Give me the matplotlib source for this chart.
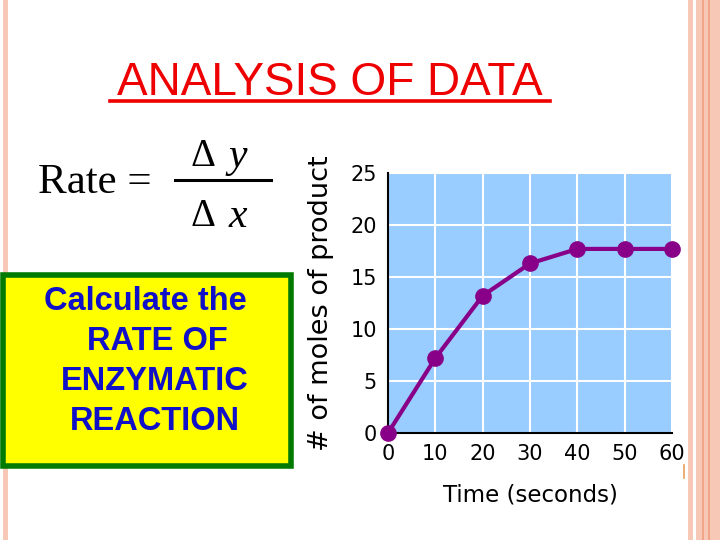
import matplotlib
matplotlib.use("Agg")
import matplotlib.pyplot as plt
from matplotlib.patches import Rectangle
from matplotlib.lines import Line2D

# data
time_s = [0, 10, 20, 30, 40, 50, 60]
moles = [0, 7.2, 13.2, 16.3, 17.7, 17.7, 17.7]
x_ticks = [0, 10, 20, 30, 40, 50, 60]
y_ticks = [0, 5, 10, 15, 20, 25]

box_lines = ["Calculate the", "RATE OF", "ENZYMATIC", "REACTION"]

W, H = 720, 540
fig = plt.figure(figsize=(7.2, 5.4), dpi=100)
fig.patch.set_facecolor("white")

def fx(px):
    return px / W

def fy(py):
    return 1 - py / H

pink = "#f7c8b5"
orange = "#f0a080"

# slide borders
fig.add_artist(Rectangle((fx(3), 0), fx(5), 1, transform=fig.transFigure, color=pink, lw=0))
fig.add_artist(Rectangle((fx(688), 0), fx(5), 1, transform=fig.transFigure, color=pink, lw=0))
fig.add_artist(Rectangle((fx(696), 0), fx(24), 1, transform=fig.transFigure, color=pink, lw=0))
for xp in [702.5, 709]:
    fig.add_artist(Line2D([fx(xp), fx(xp)], [0, 1], transform=fig.transFigure, color=orange, lw=1.2))
# small stray mark near the graph
fig.add_artist(Line2D([fx(684), fx(684)], [fy(465), fy(478)], transform=fig.transFigure,
                      color="#e8a060", lw=1.2))

# title
fig.text(fx(330), fy(83), "ANALYSIS OF DATA", ha="center", va="center",
         fontsize=33, color="#ee0000", family="Liberation Sans")
fig.add_artist(Line2D([fx(110), fx(550)], [fy(101), fy(101)], transform=fig.transFigure,
                      color="#ee0000", lw=2.6))

# formula
fig.text(fx(38), fy(183), "Rate =", ha="left", va="center", fontsize=31,
         family="Liberation Serif", color="black")
fig.add_artist(Line2D([fx(175), fx(271)], [fy(180), fy(180)], transform=fig.transFigure,
                      color="black", lw=2.2))
for yp, var in [(157, "y"), (217, "x")]:
    fig.text(fx(203), fy(yp), "Δ", ha="center", va="center", fontsize=28,
             family="Liberation Serif", color="black")
    fig.text(fx(238), fy(yp), var, ha="center", va="center", fontsize=30,
             family="Liberation Serif", style="italic", color="black")

# yellow box with green frame
fig.add_artist(Rectangle((fx(2.5), fy(465.5)), fx(288), (465.5 - 274.5) / H,
                         transform=fig.transFigure, facecolor="#ffff00",
                         edgecolor="#007a00", lw=4))
line_x = [145, 157, 155, 155]
line_y = [301, 341, 381, 421]
for txt, xp, yp in zip(box_lines, line_x, line_y):
    fig.text(fx(xp), fy(yp), txt, ha="center", va="center", fontsize=23.5,
             fontweight="bold", color="#1010c8", family="Liberation Sans")

# the graph
ax = fig.add_axes([fx(388), fy(433), fx(672) - fx(388), (433 - 173) / H])
ax.set_facecolor("#99ccff")
ax.plot(time_s, moles, color="#880088", lw=3, marker="o", markersize=11,
        clip_on=False, zorder=3)
ax.set_xlim(0, 60)
ax.set_ylim(0, 25)
ax.set_xticks(x_ticks)
ax.set_yticks(y_ticks)
ax.grid(True, color="white", lw=1.5)
ax.set_axisbelow(True)
for s in ["top", "right"]:
    ax.spines[s].set_visible(False)
for s in ["left", "bottom"]:
    ax.spines[s].set_color("black")
    ax.spines[s].set_linewidth(1.5)
ax.tick_params(length=0, labelsize=15, pad=8, colors="black")
ax.set_xlabel("Time (seconds)", fontsize=16.5, labelpad=14)
ax.set_ylabel("# of moles of product", fontsize=19.5, labelpad=12)

fig.savefig("out.png", dpi=100)
